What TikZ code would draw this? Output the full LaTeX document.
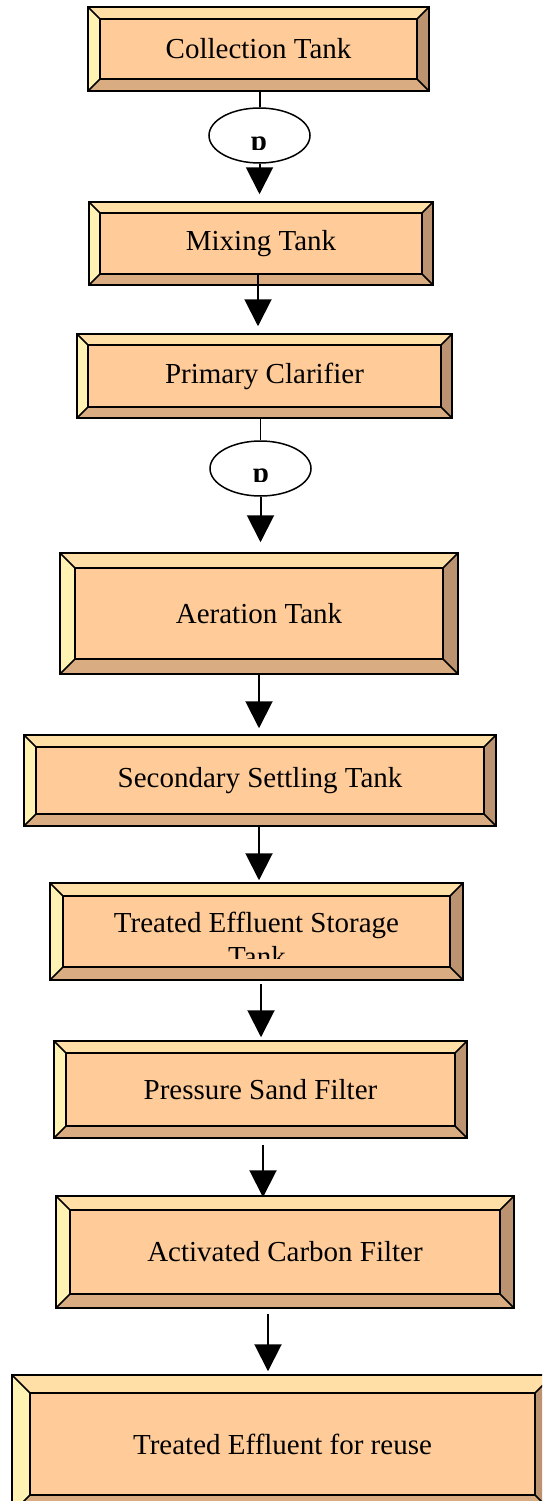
\documentclass[tikz,border=0pt]{standalone}
\usepackage{fontspec}
\setmainfont{Liberation Serif}
\usetikzlibrary{arrows.meta,shapes.geometric,calc}
\definecolor{bvface}{HTML}{FFCC99}
\definecolor{bvtopc}{HTML}{FFDFA6}
\definecolor{bvleftc}{HTML}{FFF2B2}
\definecolor{bvbotc}{HTML}{D9AC82}
\definecolor{bvrightc}{HTML}{BB9370}
\tikzset{
  bvline/.style={draw=black, line width=1.5pt, line join=miter},
  tankbox/.style={draw=black, line width=1.5pt, inner sep=0pt, font=\fontsize{29}{33}\selectfont},
  labeltxt/.style={inner sep=0pt, font=\fontsize{29}{33}\selectfont},
  pump/.style={ellipse, draw=black, fill=white, line width=1.5pt, minimum width=101pt, minimum height=55pt, inner sep=0pt},
  ptxt/.style={inner sep=0pt, anchor=base, font=\fontsize{29}{33}\selectfont\bfseries},
  flow/.style={draw=black, line width=2pt},
  flowarr/.style={draw=black, line width=2pt, -{Triangle[length=27pt,width=27pt]}},
}
\newcommand{\bevbox}[7]{%
  \fill[bvtopc] (#2,#3) -- (#4,#3) -- ({#4-#6},{#3+#6}) -- ({#2+#6},{#3+#6}) -- cycle;
  \fill[bvbotc] (#2,#5) -- (#4,#5) -- ({#4-#6},{#5-#6}) -- ({#2+#6},{#5-#6}) -- cycle;
  \fill[bvleftc] (#2,#3) -- ({#2+#6},{#3+#6}) -- ({#2+#6},{#5-#6}) -- (#2,#5) -- cycle;
  \fill[bvrightc] (#4,#3) -- ({#4-#6},{#3+#6}) -- ({#4-#6},{#5-#6}) -- (#4,#5) -- cycle;
  \fill[bvface] ({#2+#6},{#3+#6}) rectangle ({#4-#6},{#5-#6});
  \draw[bvline] ({#2+#6},{#3+#6}) rectangle ({#4-#6},{#5-#6});
  \draw[bvline] (#2,#3) -- ({#2+#6},{#3+#6}) (#4,#3) -- ({#4-#6},{#3+#6})
                (#2,#5) -- ({#2+#6},{#5-#6}) (#4,#5) -- ({#4-#6},{#5-#6});
  \node[tankbox, minimum width={#4-#2}, minimum height={#5-#3}] (#1) at ({(#2+#4)/2},{(#3+#5)/2}) {#7};
}
\begin{document}
\begin{tikzpicture}[x=1pt,y=-1pt]
\useasboundingbox (0,0) rectangle (542,1501);
\clip (0,0) rectangle (542,1501);
\fill[white] (0,0) rectangle (542,1501);

% boxes
\bevbox{ct}{88}{7}{429}{91}{12}{Collection Tank}
\bevbox{mx}{89}{202}{433}{285}{11}{Mixing Tank}
\bevbox{pc}{77}{334}{452}{418}{11}{Primary Clarifier}
\bevbox{at}{60}{553}{458}{674}{15}{Aeration Tank}
\bevbox{sst}{24}{735}{496}{826}{12}{Secondary Settling Tank}
\bevbox{ste}{50}{883}{463}{980}{13}{}
\node[labeltxt, anchor=base] (ste1) at (256.5,932) {Treated Effluent Storage};
\begin{scope}
  \clip (63,940) rectangle (450,958);
  \node[labeltxt, anchor=base] (ste2) at (257,966) {Tank};
\end{scope}
\bevbox{psf}{54}{1041}{467}{1138}{12}{Pressure Sand Filter}
\bevbox{acf}{56}{1196}{514}{1308}{14}{Activated Carbon Filter}
\bevbox{ter}{12}{1375}{553}{1513}{18}{Treated Effluent for reuse}

% pumps
\node[pump] (p1) at (259.5,135.5) {};
\begin{scope}
  \clip (220,120) rectangle (300,149);
  \node[ptxt] (p1t) at (259,150) {p};
\end{scope}
\node[pump] (p2) at (260.5,468.5) {};
\begin{scope}
  \clip (220,450) rectangle (300,481);
  \node[ptxt] (p2t) at (261,482) {p};
\end{scope}

% connectors
\draw[flow] (p1.north |- ct.south) -- (p1.north);
\draw[flowarr, shorten >=7pt] (p1.south) -- (p1.south |- mx.north);

\coordinate (c2) at ([xshift=-3pt,yshift=13pt]mx.south);
\draw[flowarr, shorten >=7pt] (c2) -- (c2 |- pc.north);

\draw[draw=black, line width=1.3pt] (p2.north |- pc.south) -- (p2.north);
\draw[flowarr, shorten >=10pt] (p2.south) -- (p2.south |- at.north);

\draw[flowarr, shorten >=6pt] (at.south) -- (at.south |- sst.north);

\coordinate (c5) at ([xshift=-1pt]sst.south);
\draw[flowarr, shorten >=2pt] (c5) -- (c5 |- ste.north);

\coordinate (c6) at ([xshift=0.5pt]psf.north);
\draw[flowarr, shorten <=3pt, shorten >=3pt] (c6 |- ste.south) -- (c6);

\coordinate (c7) at ([xshift=2.5pt]psf.south);
\draw[flowarr, shorten <=6pt, shorten >=-2pt] (c7) -- (c7 |- acf.north);

\coordinate (c8) at ([xshift=-17pt]acf.south);
\draw[flowarr, shorten <=5pt, shorten >=3pt] (c8) -- (c8 |- ter.north);
\end{tikzpicture}
\end{document}
